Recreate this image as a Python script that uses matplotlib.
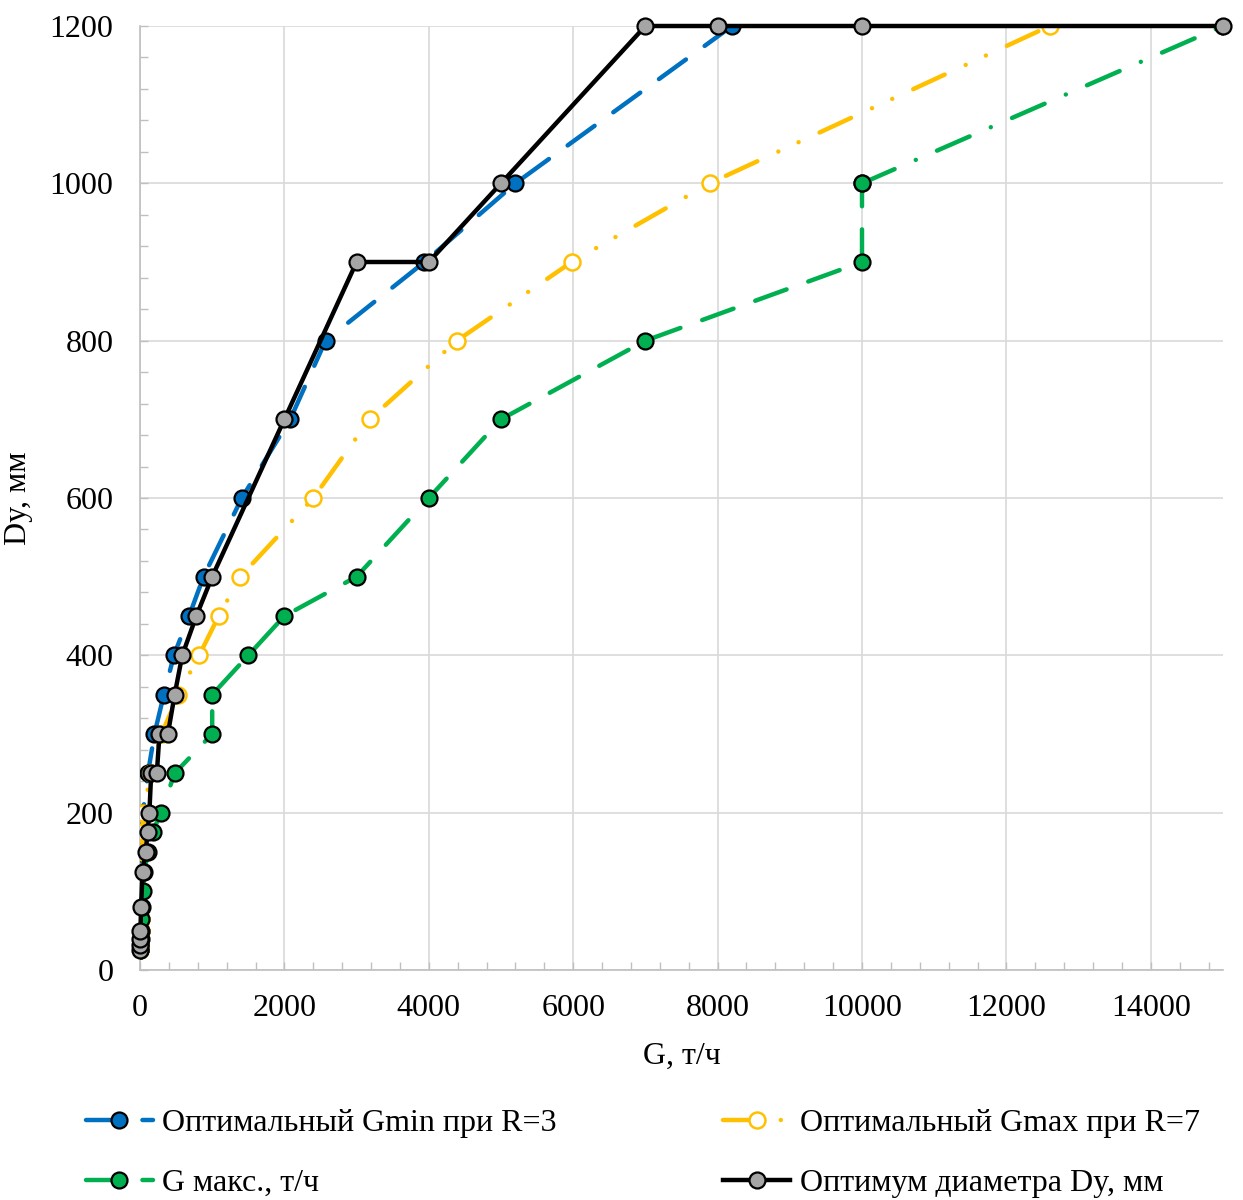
import matplotlib
matplotlib.use("Agg")
import matplotlib.pyplot as plt
from matplotlib.ticker import MultipleLocator

plt.rcParams['font.family'] = ['Liberation Serif', 'DejaVu Serif']

# Nominal diameters, mm
diam = [25, 32, 40, 50, 65, 80, 100, 125, 150, 175, 200, 250, 300, 350,
        400, 450, 500, 600, 700, 800, 900, 1000, 1200]

# Оптимальный Gmin при R=3, t/h
g_min = [2, 3, 5, 7, 10, 14, 18, 25, 30, 35, 40, 110, 200, 330,
         470, 680, 880, 1410, 2080, 2570, 3940, 5200, 8200]

# Оптимальный Gmax при R=7, t/h
g_max = [2, 3, 5, 7, 10, 14, 18, 28, 35, 40, 45, 150, 300, 530,
         820, 1090, 1390, 2400, 3180, 4390, 5980, 7890, 12600]

# G макс., t/h
g_maks = [3, 5, 8, 12, 15, 25, 40, 60, 110, 175, 290, 480, 1000, 1000,
          1500, 2000, 3000, 4000, 5000, 7000, 10000, 10000, 15000]

# Оптимум диаметра Dy, mm
opt_d = [25, 32, 40, 50, 80, 125, 150, 175, 200, 250, 250, 300, 300, 350,
         400, 450, 500, 700, 900, 900, 1000, 1200, 1200, 1200, 1200]
opt_g = [2, 3, 4, 6, 15, 35, 80, 104, 130, 155, 233, 270, 386, 480,
         585, 780, 1000, 2000, 3000, 4000, 5000, 7000, 8000, 10000, 15000]

labels = ["Оптимальный Gmin при R=3", "Оптимальный Gmax при R=7",
          "G макс., т/ч", "Оптимум диаметра Dy, мм"]

BLUE = "#0070C0"
YEL = "#FFC000"
GRN = "#00B050"
GRAY = "#A5A5A5"

FS = 23

fig = plt.figure(figsize=(12.43, 12.0), dpi=100)
ax = fig.add_axes([140/1243, 1 - 970/1200, (1223-140)/1243, (970-26)/1200])

lw = 3.2
ms = 11.5
mew = 1.6

dash_long = (0, (7.5, 5.2))
dash_dotdot = (0, (7.8, 5.2, 0.01, 5.0, 0.01, 5.2))
dash_dot = (0, (8.0, 5.2, 0.01, 5.2))

h_blue, = ax.plot(g_min, diam, color=BLUE, lw=lw, linestyle=dash_long,
                  dash_capstyle='round', marker='o', ms=ms, mfc=BLUE,
                  mec='black', mew=mew, zorder=3)
h_yel, = ax.plot(g_max, diam, color=YEL, lw=lw, linestyle=dash_dotdot,
                 dash_capstyle='round', marker='o', ms=ms, mfc='white',
                 mec=YEL, mew=1.8, zorder=4)
h_grn, = ax.plot(g_maks[:-1], diam[:-1], color=GRN, lw=lw, linestyle=dash_long,
                 dash_capstyle='round', marker='o', ms=ms, mfc=GRN,
                 mec='black', mew=mew, zorder=5)
ax.plot(g_maks[-2:], diam[-2:], color=GRN, lw=lw, linestyle=dash_dot,
        dash_capstyle='round', marker='o', ms=ms, mfc=GRN,
        mec='black', mew=mew, zorder=5)
h_blk, = ax.plot(opt_g, opt_d, color='black', lw=lw, linestyle='-',
                 solid_joinstyle='miter', marker='o', ms=ms, mfc=GRAY,
                 mec='black', mew=mew, zorder=6, clip_on=False)

ax.set_xlim(0, 15000)
ax.set_ylim(0, 1200)
ax.xaxis.set_major_locator(MultipleLocator(2000))
ax.xaxis.set_minor_locator(MultipleLocator(400))
ax.yaxis.set_major_locator(MultipleLocator(200))
ax.yaxis.set_minor_locator(MultipleLocator(40))

ax.grid(True, which='major', color='#D9D9D9', lw=1.2, zorder=0)
ax.set_axisbelow(True)
for s in ['top', 'right']:
    ax.spines[s].set_visible(False)
for s in ['left', 'bottom']:
    ax.spines[s].set_color('#BFBFBF')
    ax.spines[s].set_linewidth(1.2)

ax.tick_params(which='both', direction='in', color='#BFBFBF', width=1.0,
               length=6, labelsize=FS, labelcolor='black')
ax.tick_params(axis='x', pad=17)
ax.tick_params(axis='y', pad=19)

ax.set_xlabel("G, т/ч", fontsize=FS, labelpad=14)
ax.set_ylabel("Dy, мм", fontsize=FS, labelpad=12)

fig.legend([h_blue, h_grn, h_yel, h_blk],
           [labels[0], labels[2], labels[1], labels[3]],
           ncol=2, loc='center', bbox_to_anchor=(0.517, 0.039),
           frameon=False, fontsize=FS, handlelength=2.1, handletextpad=0.3,
           columnspacing=5.2, labelspacing=0.95)

fig.savefig("out.png", dpi=100)
